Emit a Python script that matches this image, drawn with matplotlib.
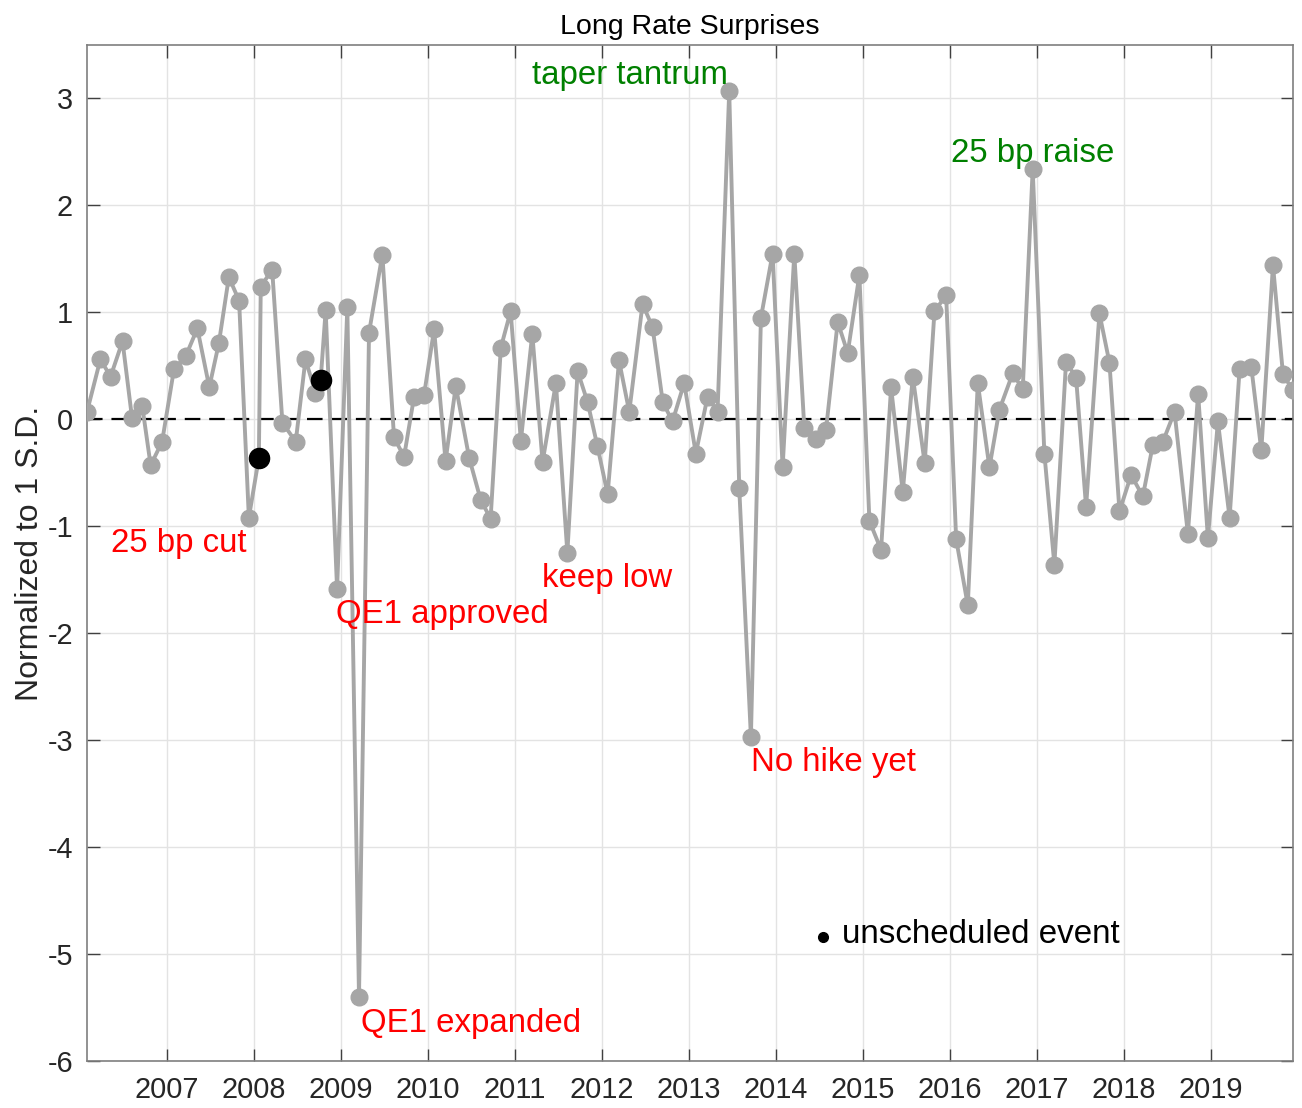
import pandas as pd
import matplotlib
matplotlib.use('Agg')
import matplotlib.pyplot as plt

# FOMC announcement dates (scheduled + unscheduled)
DATES = [
    '2006-01-31', '2006-03-28', '2006-05-10', '2006-06-29', '2006-08-08', '2006-09-20', '2006-10-25', '2006-12-12',
    '2007-01-31', '2007-03-21', '2007-05-09', '2007-06-28', '2007-08-07', '2007-09-18', '2007-10-31', '2007-12-11',
    '2008-01-22', '2008-01-30', '2008-03-18', '2008-04-30', '2008-06-25', '2008-08-05', '2008-09-16', '2008-10-08',
    '2008-10-29', '2008-12-16',
    '2009-01-28', '2009-03-18', '2009-04-29', '2009-06-24', '2009-08-12', '2009-09-23', '2009-11-04', '2009-12-16',
    '2010-01-27', '2010-03-16', '2010-04-28', '2010-06-23', '2010-08-10', '2010-09-21', '2010-11-03', '2010-12-14',
    '2011-01-26', '2011-03-15', '2011-04-27', '2011-06-22', '2011-08-09', '2011-09-21', '2011-11-02', '2011-12-13',
    '2012-01-25', '2012-03-13', '2012-04-25', '2012-06-20', '2012-08-01', '2012-09-13', '2012-10-24', '2012-12-12',
    '2013-01-30', '2013-03-20', '2013-05-01', '2013-06-19', '2013-07-31', '2013-09-18', '2013-10-30', '2013-12-18',
    '2014-01-29', '2014-03-19', '2014-04-30', '2014-06-18', '2014-07-30', '2014-09-17', '2014-10-29', '2014-12-17',
    '2015-01-28', '2015-03-18', '2015-04-29', '2015-06-17', '2015-07-29', '2015-09-17', '2015-10-28', '2015-12-16',
    '2016-01-27', '2016-03-16', '2016-04-27', '2016-06-15', '2016-07-27', '2016-09-21', '2016-11-02', '2016-12-14',
    '2017-02-01', '2017-03-15', '2017-05-03', '2017-06-14', '2017-07-26', '2017-09-20', '2017-11-01', '2017-12-13',
    '2018-01-31', '2018-03-21', '2018-05-02', '2018-06-13', '2018-08-01', '2018-09-26', '2018-11-08', '2018-12-19',
    '2019-01-30', '2019-03-20', '2019-05-01', '2019-06-19', '2019-07-31', '2019-09-18', '2019-10-30', '2019-12-11',
]

SURPRISE = [
    0.07, 0.56, 0.40, 0.73, 0.01, 0.12, -0.43, -0.21,
    0.47, 0.59, 0.85, 0.30, 0.71, 1.33, 1.11, -0.92,
    -0.36, 1.24, 1.40, -0.03, -0.21, 0.56, 0.25, 0.37,
    1.02, -1.59,
    1.05, -5.40, 0.81, 1.54, -0.17, -0.35, 0.21, 0.23,
    0.84, -0.39, 0.31, -0.36, -0.75, -0.93, 0.67, 1.01,
    -0.20, 0.80, -0.40, 0.34, -1.25, 0.45, 0.16, -0.25,
    -0.70, 0.55, 0.07, 1.08, 0.86, 0.16, -0.02, 0.34,
    -0.32, 0.21, 0.07, 3.07, -0.64, -2.97, 0.95, 1.55,
    -0.45, 1.55, -0.08, -0.18, -0.10, 0.91, 0.62, 1.35,
    -0.95, -1.22, 0.30, -0.68, 0.40, -0.41, 1.01, 1.16,
    -1.12, -1.74, 0.34, -0.45, 0.09, 0.43, 0.28, 2.34,
    -0.32, -1.36, 0.54, 0.39, -0.82, 0.99, 0.53, -0.86,
    -0.52, -0.72, -0.24, -0.21, 0.07, -1.07, 0.24, -1.11,
    -0.02, -0.92, 0.47, 0.49, -0.29, 1.44, 0.42, 0.27,
]

UNSCHEDULED = ['2008-01-22', '2008-10-08']

YEAR_TICKS = list(range(2007, 2020))
Y_TICKS = list(range(-6, 4))

# (text, date, value, color)
NOTES = [
    ('taper tantrum', '2011-03-14', 3.14, 'green'),
    ('25 bp raise', '2016-01-05', 2.41, 'green'),
    ('25 bp cut', '2006-05-12', -1.24, 'red'),
    ('QE1 approved', '2008-12-13', -1.90, 'red'),
    ('keep low', '2011-04-26', -1.565, 'red'),
    ('No hike yet', '2013-09-20', -3.287, 'red'),
    ('QE1 expanded', '2009-03-28', -5.73, 'red'),
]


def to_year(s):
    d = pd.to_datetime(pd.Series(s))
    days = d.dt.is_leap_year.map({True: 366.0, False: 365.0})
    return (d.dt.year + (d.dt.dayofyear - 1) / days).to_numpy()


plt.rcParams['font.family'] = ['Liberation Sans', 'DejaVu Sans']

x = to_year(DATES)
xu = to_year(UNSCHEDULED)
yu = [SURPRISE[DATES.index(d)] for d in UNSCHEDULED]

fig = plt.figure(figsize=(13.02, 11.08), dpi=100)
ax = fig.add_axes([87 / 1302, 47 / 1108, 1206 / 1302, 1016 / 1108])

ax.grid(True, color='#e3e3e3', linewidth=1.0)
ax.set_axisbelow(True)
ax.axhline(0, color='black', linestyle=(0, (7, 4)), linewidth=1.6, zorder=2)
ax.plot(x, SURPRISE, color='#a6a6a6', linewidth=2.8, marker='o', markersize=12, zorder=3)
ax.plot(xu, yu, linestyle='none', marker='o', color='black', markersize=14.5, zorder=4)

for txt, d, v, c in NOTES:
    ax.text(to_year([d])[0], v, txt, color=c, fontsize=23.8, ha='left', va='baseline', zorder=5)

ax.plot(to_year(['2014-07-19'])[0], -4.84, 'o', color='black', markersize=7, zorder=5)
ax.text(to_year(['2014-10-06'])[0], -4.90, 'unscheduled event', color='black', fontsize=23.9,
        ha='left', va='baseline', zorder=5)

ax.set_xlim(x[0], x[-1])
ax.set_ylim(-6, 3.5)
ax.set_xticks(YEAR_TICKS)
ax.set_xticklabels([str(t) for t in YEAR_TICKS])
ax.set_yticks(Y_TICKS)
ax.set_yticklabels([str(t) for t in Y_TICKS])
ax.tick_params(direction='in', length=9, width=1, color='#404040', labelcolor='#262626',
               labelsize=20.8, top=True, right=True)
ax.tick_params(axis='x', pad=11)
ax.tick_params(axis='y', pad=10)
for sp in ax.spines.values():
    sp.set_color('#7f7f7f')
    sp.set_linewidth(1.2)

ax.set_title('Long Rate Surprises', fontsize=20.5, color='black', pad=8)
ax.set_ylabel('Normalized to 1 S.D.', fontsize=23, color='#262626', labelpad=2)

fig.savefig('out.png', dpi=100)
